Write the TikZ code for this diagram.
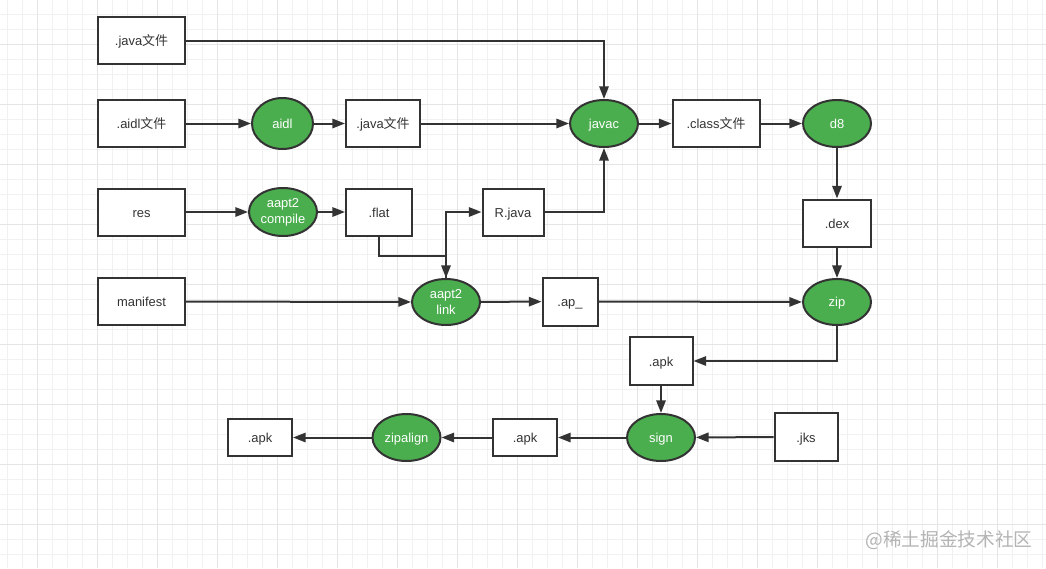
\documentclass[tikz,border=0pt]{standalone}
\usepackage{fontspec}
\setmainfont{Liberation Sans}
\newfontfamily\cjk{Noto Sans CJK SC}
\usetikzlibrary{arrows.meta,shapes.geometric}
\definecolor{gridc}{HTML}{F1F1F1}
\definecolor{gridm}{HTML}{E5E5E5}
\definecolor{linec}{HTML}{333333}
\definecolor{greenc}{HTML}{4AAD4E}
\definecolor{wmc}{HTML}{B4B4B4}
\tikzset{
  box/.style={draw=linec, line width=1.5pt, fill=white, inner sep=0pt,
    minimum width=#1, minimum height=35.25pt, text=linec,
    text height=9pt, text depth=1pt,
    font=\fontsize{9.7}{11}\selectfont},
  box/.default=65.25pt,
  proc/.style={ellipse, draw=linec, line width=1.5pt, fill=greenc, inner sep=0pt,
    minimum width=#1, minimum height=35.25pt, text=white, align=center,
    font=\fontsize{9.7}{12}\selectfont},
  proc/.default=51pt,
  oneline/.style={text height=8.5pt, text depth=1.5pt},
  arr/.style={draw=linec, line width=1.5pt,
    -{Triangle[length=9.5pt,width=7pt]}},
}
\begin{document}
\begin{tikzpicture}[x=0.75pt,y=-0.75pt]
\useasboundingbox (0,0) rectangle (1046,568);
\fill[white] (0,0) rectangle (1046,568);
% grid
\foreach \x in {7.5,22.5,...,1046} \draw[gridc, line width=0.6pt] (\x,0) -- (\x,568);
\foreach \y in {14,29,...,568} \draw[gridc, line width=0.6pt] (0,\y) -- (1046,\y);
\foreach \x in {37.5,97.5,...,1046} \draw[gridm, line width=0.6pt] (\x,0) -- (\x,568);
\foreach \y in {44,104,...,568} \draw[gridm, line width=0.6pt] (0,\y) -- (1046,\y);

% nodes
\node[box] (java1) at (141.5,40.5) {.java{\cjk 文件}};
\node[box] (aidlf) at (141.5,123.5) {.aidl{\cjk 文件}};
\node[box] (res) at (141.5,212) {res};
\node[box] (manifest) at (141.5,301.5) {manifest};
\node[proc=45.75pt, oneline, minimum height=38.25pt] (aidl) at (282.5,123.5) {aidl};
\node[box=55.5pt] (java2) at (383,123.5) {.java{\cjk 文件}};
\node[proc, oneline] (javac) at (604,123.5) {javac};
\node[box] (class) at (716,123.5) {.class{\cjk 文件}};
\node[proc, oneline] (d8) at (837,123.5) {d8};
\node[box=51pt] (dex) at (837,223) {.dex};
\node[proc, oneline, minimum height=34.5pt] (zip) at (837,302) {zip};
\node[proc, minimum height=36pt] (compile) at (283,212) {aapt2\\compile};
\node[box=49.5pt] (flat) at (379,212) {.flat};
\node[box=45.75pt] (rjava) at (513,212) {R.java};
\node[proc, minimum height=34.5pt] (link) at (446,302) {aapt2\\link};
\node[box=41.25pt, minimum height=36pt] (ap) at (570,301.5) {.ap\_};
\node[box=47.25pt, minimum height=36pt] (apk1) at (661,361) {.apk};
\node[proc, oneline] (sign) at (661,437.5) {sign};
\node[box=47.25pt, minimum height=36pt] (jks) at (806,437) {.jks};
\node[box=48pt, minimum height=27.75pt] (apk2) at (525,437.5) {.apk};
\node[proc, oneline] (zipalign) at (406.5,437.5) {zipalign};
\node[box=48pt, minimum height=27.75pt] (apk3) at (260,437.5) {.apk};

% connectors
\draw[arr] (java1.east) -| (javac.north);
\draw[arr] (aidlf) -- (aidl);
\draw[arr] (aidl) -- (java2);
\draw[arr] (java2) -- (javac);
\draw[arr] (javac) -- (class);
\draw[arr] (class) -- (d8);
\draw[arr] (d8) -- (dex);
\draw[arr] (dex) -- (zip);
\draw[arr] (res) -- (compile);
\draw[arr] (compile) -- (flat);
\coordinate (j) at (446,256);
\draw[arr] (flat.south) |- (j) -- (link.north);
\draw[arr] (link.north) |- (rjava.west);
\draw[arr] (rjava.east) -| (javac.south);
\draw[arr] (manifest) -- (link);
\draw[arr] (link) -- (ap);
\draw[arr] (ap) -- (zip);
\draw[arr] (zip.south) |- (apk1.east);
\draw[arr] (apk1) -- (sign);
\draw[arr] (jks) -- (sign);
\draw[arr] (sign) -- (apk2);
\draw[arr] (apk2) -- (zipalign);
\draw[arr] (zipalign) -- (apk3);

% watermark
\node[text=wmc, font=\cjk\fontsize{14}{16}\selectfont, inner sep=0pt] (wm) at (949,540) {@稀土掘金技术社区};
\end{tikzpicture}
\end{document}
